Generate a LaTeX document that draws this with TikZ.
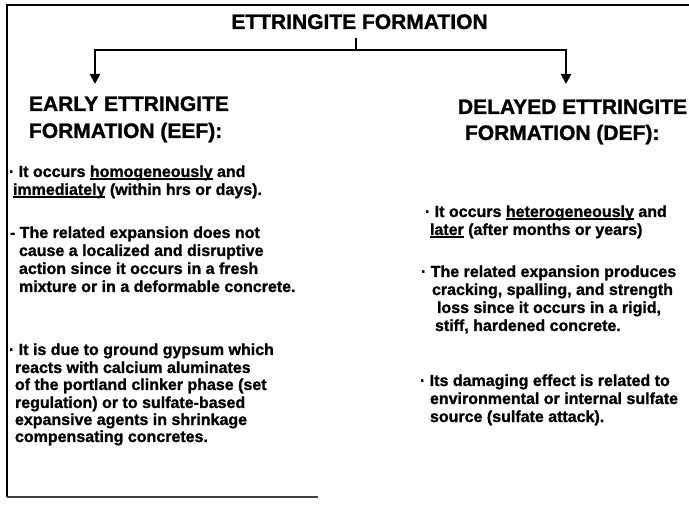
\documentclass[tikz,border=0pt]{standalone}
\usepackage{fontspec}
\setmainfont{Liberation Sans}[BoldFeatures={FakeBold=1.2}]
\usetikzlibrary{arrows.meta}
\newcommand\myul[1]{\setbox0\hbox{#1}\rlap{\rule[-2.6pt]{\wd0}{1.3pt}}\box0\relax}
\tikzset{
  frameline/.style={line width=1.6pt, black},
  conn/.style={line width=2pt, black},
  arr/.style={conn, -{Triangle[width=10pt,length=10pt]}},
  head/.style={inner sep=0pt, outer sep=0pt, anchor=base west, font=\fontsize{21}{25}\selectfont\bfseries},
  body/.style={inner sep=0pt, outer sep=0pt, anchor=base west, font=\fontsize{16}{18}\selectfont\bfseries},
}
\begin{document}
\begin{tikzpicture}[x=1pt,y=-1pt]
\useasboundingbox (0,0) rectangle (689,505);
% frame
\coordinate (fTR) at (689,5);
\coordinate (fTL) at (7,5);
\coordinate (fBL) at (7,497);
\coordinate (fBR) at (318,497);
\draw[frameline] (fTR) -- (fTL) -- (fBL);
\draw[line width=1.6pt, black!75] (fBL) -- (fBR);
% title
\node[inner sep=0pt, outer sep=0pt, anchor=base, font=\fontsize{21}{25}\selectfont\bfseries] (title) at (359.5,29) {ETTRINGITE FORMATION};
% headings
\node[head] (eef1) at (29,111) {EARLY ETTRINGITE};
\node[head] (eef2) at (29,138) {FORMATION (EEF):};
\node[head] (def1) at (458,114) {DELAYED ETTRINGITE};
\node[head] (def2) at (465,140) {FORMATION (DEF):};
% connectors
\coordinate (t0) at (356,38);
\coordinate (j) at (356,50);
\coordinate (aL) at (95,84);
\coordinate (aR) at (566,84);
\draw[conn] (t0) -- (j);
\draw[arr] (j) -| (aL);
\draw[arr] (j) -| (aR);
% left column
\node[body] (l1) at (9,177) {· It occurs \myul{homogeneously} and};
\node[body] (l2) at (13,195) {\myul{immediately} (within hrs or days).};
\node[body] (l3) at (10,238) {- The related expansion does not};
\node[body] (l4) at (19,256) {cause a localized and disruptive};
\node[body] (l5) at (19,274) {action since it occurs in a fresh};
\node[body] (l6) at (19,292) {mixture or in a deformable concrete.};
\node[body] (l7) at (9,355) {· It is due to ground gypsum which};
\node[body] (l8) at (15,373) {reacts with calcium aluminates};
\node[body] (l9) at (15,390) {of the portland clinker phase (set};
\node[body] (l10) at (15,408) {regulation) or to sulfate-based};
\node[body] (l11) at (15,425) {expansive agents in shrinkage};
\node[body] (l12) at (15,442) {compensating concretes.};
% right column
\node[body] (r1) at (425,217) {· It occurs \myul{heterogeneously} and};
\node[body] (r2) at (430,235) {\myul{later} (after months or years)};
\node[body] (r3) at (421,277) {· The related expansion produces};
\node[body] (r4) at (432,295) {cracking, spalling, and strength};
\node[body] (r5) at (437,313) {loss since it occurs in a rigid,};
\node[body] (r6) at (435,331) {stiff, hardened concrete.};
\node[body] (r7) at (420,386) {· Its damaging effect is related to};
\node[body] (r8) at (430,404) {environmental or internal sulfate};
\node[body] (r9) at (430,422) {source (sulfate attack).};
\end{tikzpicture}
\end{document}
